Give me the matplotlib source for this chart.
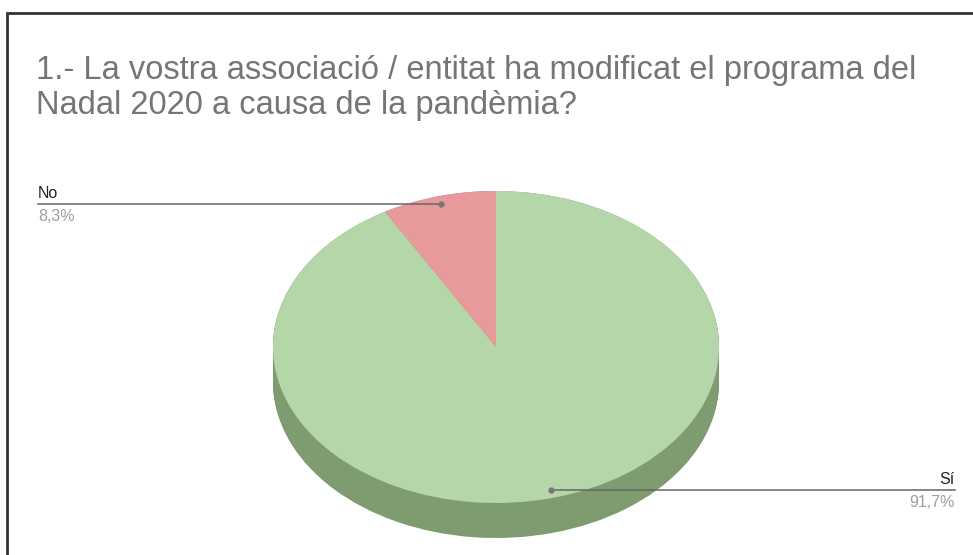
import numpy as np
import matplotlib
matplotlib.use("Agg")
import matplotlib.pyplot as plt

# data
labels = ["No", "Sí"]
values = [8.3, 91.7]
pct_text = ["8,3%", "91,7%"]
title = "1.- La vostra associació / entitat ha modificat el programa del\nNadal 2020 a causa de la pandèmia?"

top_colors = ["#E8999B", "#B5D6A8"]
side_colors = ["#A86E70", "#7E9C70"]

W, H = 973, 555
plt.rcParams['font.family'] = ['Liberation Sans', 'DejaVu Sans']
fig = plt.figure(figsize=(W / 100, H / 100), dpi=100)

# pie geometry (pixels)
cx, cy, rx, ry = 496, 347, 223, 156
depth = 35
d = depth / ry

axp = fig.add_axes([(cx - rx) / W, (H - (cy + ry + depth)) / H, 2 * rx / W, (2 * ry + depth) / H])

# side of the 3d pie: stacked darker pies
for off in np.linspace(d, 0, 40):
    wedges, _ = axp.pie(values, colors=side_colors, startangle=90, counterclock=True,
                        center=(0, -off), radius=1, wedgeprops=dict(linewidth=0))
    for w in wedges:
        w.set_clip_on(False)
wedges, _ = axp.pie(values, colors=top_colors, startangle=90, counterclock=True,
                    center=(0, 0), radius=1, wedgeprops=dict(linewidth=0))
for w in wedges:
    w.set_clip_on(False)
axp.set_aspect('auto')
axp.set_xlim(-1, 1)
axp.set_ylim(-1 - d, 1)
axp.axis('off')

# overlay in pixel coords
ov = fig.add_axes([0, 0, 1, 1], zorder=5)
ov.set_xlim(0, W)
ov.set_ylim(H, 0)
ov.axis('off')
ov.patch.set_alpha(0)

# border
ov.plot([7, 7, W + 5], [H + 5, 12.5, 12.5], color="#333333", lw=2, solid_joinstyle='miter')

# va baseline on multiline text -> last line baseline
ov.text(36, 114, title, fontsize=23.5, color="#757575", va='baseline', ha='left',
        linespacing=1.18)

# leader lines
start = 90.0
for i, v in enumerate(values):
    ang = np.deg2rad(start + v / sum(values) * 360 / 2)
    px = cx + 0.95 * rx * np.cos(ang)
    py = cy - 0.95 * ry * np.sin(ang)
    start += v / sum(values) * 360
    if px < cx:
        lx, ha = 38, 'left'
    else:
        lx, ha = 955, 'right'
    ov.plot([lx, px], [py, py], color="#666666", lw=1.1)
    ov.plot(px, py, 'o', color="#777777", ms=3.5)
    ov.text(lx, py - 3, labels[i], fontsize=11.5, color="#222222", ha=ha, va='bottom')
    ov.text(lx, py + 5, pct_text[i], fontsize=11.5, color="#9e9e9e", ha=ha, va='top')

fig.savefig("out.png", dpi=100)
